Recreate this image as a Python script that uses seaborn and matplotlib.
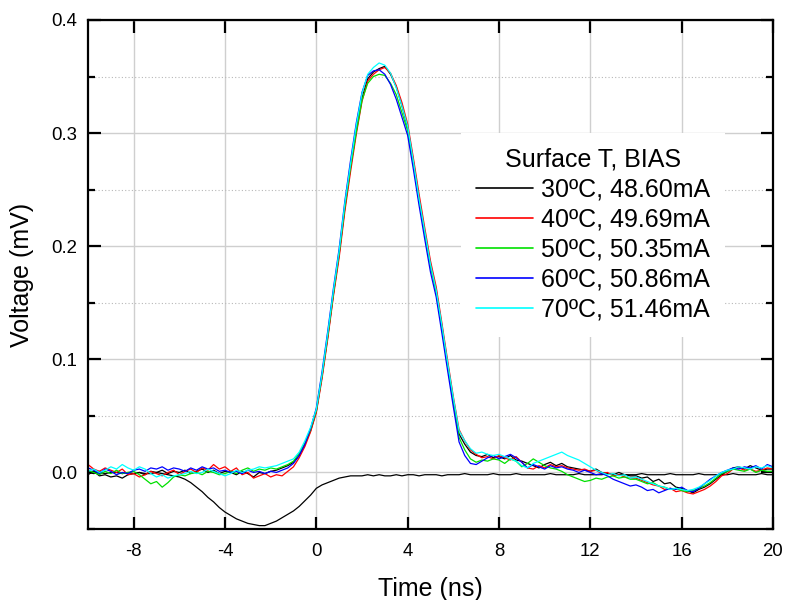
import numpy as np
import pandas as pd
import seaborn as sns
import matplotlib
matplotlib.use("Agg")
import matplotlib.pyplot as plt
from matplotlib.ticker import MultipleLocator, FormatStrFormatter

# time axis, ns (sampled every 0.25 ns from -10 to 20)
time_ns = np.arange(-10, 20.001, 0.25)

labels = ["30ºC, 48.60mA", "40ºC, 49.69mA", "50ºC, 50.35mA",
          "60ºC, 50.86mA", "70ºC, 51.46mA"]
colors = ["#000000", "#ff0000", "#00e000", "#0000ff", "#00ffff"]

# voltage traces (mV axis as labelled), 8 values = 2 ns per row
v30 = [-0.002, 0.001, -0.003, -0.002, -0.004, -0.003, -0.005, -0.002,
       -0.001, 0.000, -0.002, 0.001, 0.000, 0.002, -0.001, 0.001,
       0.000, 0.002, -0.001, 0.001, 0.003, 0.000, 0.002, -0.001,
       0.001, 0.000, -0.002, 0.001, -0.001, -0.004, 0.000, -0.001,
       0.001, 0.002, 0.004, 0.006, 0.009, 0.015, 0.025, 0.037,
       0.054, 0.085, 0.120, 0.158, 0.193, 0.234, 0.270, 0.302,
       0.331, 0.348, 0.354, 0.357, 0.359, 0.352, 0.341, 0.324,
       0.305, 0.275, 0.242, 0.212, 0.184, 0.161, 0.129, 0.096,
       0.064, 0.034, 0.025, 0.018, 0.015, 0.014, 0.016, 0.013,
       0.014, 0.012, 0.015, 0.011, 0.010, 0.008, 0.006, 0.004,
       0.007, 0.009, 0.006, 0.008, 0.005, 0.004, 0.003, 0.002,
       0.001, 0.003, 0.000, -0.001, -0.002, 0.000, -0.002, -0.003,
       -0.003, -0.005, -0.004, -0.008, -0.006, -0.010, -0.009, -0.013,
       -0.014, -0.016, -0.018, -0.015, -0.013, -0.010, -0.006, -0.002,
       0.001, 0.004, 0.005, 0.003, 0.006, 0.004, 0.002, 0.003,
       0.003]
v40 = [0.007, 0.003, 0.001, 0.004, 0.002, 0.000, 0.003, -0.002,
       -0.001, -0.004, -0.002, 0.001, -0.001, -0.003, 0.000, 0.002,
       -0.002, 0.001, 0.003, 0.000, 0.004, 0.002, 0.007, 0.003,
       0.005, 0.001, 0.004, -0.002, 0.000, -0.005, -0.003, -0.001,
       -0.004, -0.002, -0.003, 0.001, 0.005, 0.013, 0.023, 0.036,
       0.053, 0.083, 0.118, 0.156, 0.190, 0.231, 0.266, 0.299,
       0.328, 0.346, 0.352, 0.356, 0.358, 0.353, 0.342, 0.327,
       0.308, 0.278, 0.246, 0.216, 0.187, 0.164, 0.132, 0.099,
       0.067, 0.038, 0.028, 0.020, 0.016, 0.013, 0.014, 0.012,
       0.015, 0.013, 0.011, 0.014, 0.009, 0.004, 0.003, 0.006,
       0.004, 0.007, 0.005, 0.006, 0.004, 0.003, 0.002, 0.003,
       0.001, 0.002, -0.001, 0.000, -0.003, -0.002, -0.004, -0.005,
       -0.005, -0.007, -0.009, -0.011, -0.012, -0.015, -0.014, -0.017,
       -0.016, -0.018, -0.019, -0.017, -0.015, -0.012, -0.008, -0.003,
       -0.001, 0.003, 0.004, 0.002, 0.003, 0.001, 0.002, 0.004,
       0.003]
v50 = [0.002, 0.000, -0.002, 0.001, -0.001, 0.002, -0.001, 0.000,
       0.001, -0.002, -0.006, -0.010, -0.008, -0.013, -0.009, -0.004,
       -0.002, -0.003, -0.001, 0.000, -0.002, 0.001, 0.000, -0.002,
       -0.001, 0.001, -0.001, 0.002, 0.004, 0.001, 0.003, 0.002,
       0.004, 0.003, 0.005, 0.007, 0.010, 0.017, 0.026, 0.038,
       0.055, 0.086, 0.121, 0.159, 0.194, 0.235, 0.270, 0.301,
       0.329, 0.344, 0.350, 0.352, 0.351, 0.344, 0.334, 0.318,
       0.302, 0.272, 0.240, 0.211, 0.182, 0.159, 0.127, 0.094,
       0.062, 0.031, 0.020, 0.012, 0.009, 0.011, 0.010, 0.012,
       0.011, 0.008, 0.012, 0.010, 0.005, 0.008, 0.012, 0.009,
       0.006, 0.004, 0.003, 0.001, -0.002, -0.004, -0.006, -0.008,
       -0.007, -0.005, -0.006, -0.004, -0.003, -0.005, -0.004, -0.006,
       -0.006, -0.008, -0.010, -0.009, -0.012, -0.013, -0.015, -0.014,
       -0.016, -0.017, -0.016, -0.014, -0.012, -0.009, -0.005, -0.001,
       0.001, 0.003, 0.002, 0.001, 0.003, 0.000, 0.002, 0.001,
       0.001]
v60 = [0.004, 0.002, -0.001, 0.003, 0.001, -0.002, 0.000, -0.001,
       0.002, 0.003, 0.001, 0.004, 0.003, 0.005, 0.002, 0.004,
       0.003, 0.001, 0.004, 0.002, 0.005, 0.003, 0.004, 0.001,
       0.002, 0.000, 0.001, -0.001, 0.002, 0.000, 0.001, -0.001,
       0.001, 0.000, 0.002, 0.004, 0.008, 0.015, 0.025, 0.039,
       0.057, 0.089, 0.125, 0.163, 0.198, 0.240, 0.276, 0.309,
       0.336, 0.351, 0.355, 0.356, 0.352, 0.343, 0.330, 0.314,
       0.298, 0.268, 0.236, 0.206, 0.177, 0.155, 0.123, 0.090,
       0.058, 0.027, 0.015, 0.008, 0.007, 0.010, 0.013, 0.015,
       0.012, 0.014, 0.016, 0.013, 0.009, 0.004, 0.007, 0.005,
       0.003, 0.006, 0.004, 0.005, 0.003, 0.002, 0.000, 0.002,
       0.000, -0.002, -0.001, -0.003, -0.006, -0.008, -0.010, -0.012,
       -0.011, -0.013, -0.016, -0.015, -0.018, -0.016, -0.014, -0.015,
       -0.013, -0.016, -0.017, -0.014, -0.010, -0.006, -0.003, 0.000,
       0.002, 0.004, 0.003, 0.005, 0.004, 0.006, 0.003, 0.007,
       0.005]
v70 = [0.001, 0.003, 0.000, 0.002, 0.005, 0.003, 0.007, 0.004,
       0.002, 0.005, 0.003, -0.001, -0.004, -0.002, -0.005, -0.003,
       -0.002, -0.001, 0.001, -0.001, 0.000, 0.003, 0.001, -0.001,
       -0.003, -0.001, 0.002, 0.000, 0.002, 0.003, 0.005, 0.004,
       0.005, 0.006, 0.008, 0.010, 0.012, 0.018, 0.028, 0.040,
       0.056, 0.087, 0.123, 0.161, 0.196, 0.238, 0.273, 0.307,
       0.335, 0.352, 0.358, 0.362, 0.360, 0.353, 0.340, 0.324,
       0.306, 0.275, 0.242, 0.213, 0.184, 0.161, 0.130, 0.097,
       0.066, 0.037, 0.028, 0.021, 0.017, 0.018, 0.016, 0.015,
       0.016, 0.014, 0.012, 0.010, 0.006, 0.004, 0.008, 0.010,
       0.012, 0.014, 0.016, 0.018, 0.015, 0.013, 0.011, 0.008,
       0.005, 0.002, 0.000, -0.002, -0.001, -0.003, -0.002, -0.005,
       -0.004, -0.006, -0.008, -0.010, -0.012, -0.013, -0.015, -0.014,
       -0.015, -0.016, -0.015, -0.013, -0.010, -0.007, -0.003, 0.000,
       0.002, 0.003, 0.005, 0.004, 0.003, 0.005, 0.004, 0.006,
       0.004]
# extra black trace (no legend entry)
v_ref = [0.000, -0.001, 0.000, -0.001, 0.000, 0.000, -0.001, 0.000,
         -0.001, 0.000, -0.001, -0.001, 0.000, -0.001, -0.002, -0.003,
         -0.004, -0.006, -0.009, -0.013, -0.017, -0.022, -0.026, -0.031,
         -0.035, -0.038, -0.041, -0.043, -0.045, -0.046, -0.047, -0.047,
         -0.045, -0.043, -0.040, -0.037, -0.034, -0.030, -0.025, -0.020,
         -0.014, -0.011, -0.009, -0.007, -0.005, -0.004, -0.003, -0.003,
         -0.003, -0.002, -0.003, -0.002, -0.003, -0.003, -0.002, -0.003,
         -0.002, -0.002, -0.003, -0.002, -0.002, -0.002, -0.003, -0.002,
         -0.002, -0.002, -0.001, -0.002, -0.002, -0.002, -0.002, -0.001,
         -0.002, -0.002, -0.002, -0.001, -0.002, -0.002, -0.002, -0.002,
         -0.002, -0.001, -0.002, -0.002, -0.002, -0.002, -0.001, -0.002,
         -0.002, -0.002, -0.002, -0.001, -0.002, -0.002, -0.002, -0.002,
         -0.002, -0.001, -0.002, -0.002, -0.002, -0.002, -0.001, -0.002,
         -0.002, -0.002, -0.002, -0.001, -0.002, -0.002, -0.002, -0.002,
         -0.002, -0.001, -0.002, -0.002, -0.002, -0.002, -0.001, -0.002,
         -0.002]

series = [v30, v40, v50, v60, v70]
df = pd.concat([pd.DataFrame({"t": time_ns, "v": vals, "label": lab})
                for vals, lab in zip(series, labels)], ignore_index=True)

sns.set_theme(style="ticks")
plt.rcParams["font.family"] = ["Liberation Sans", "DejaVu Sans"]
plt.rcParams["axes.unicode_minus"] = False
for key in ["text.color", "axes.labelcolor", "xtick.color", "ytick.color"]:
    plt.rcParams[key] = "black"

fig = plt.figure(figsize=(7.85, 6.0), dpi=100)
ax = fig.add_axes([0.1121, 0.1183, 0.8726, 0.8484])

sns.lineplot(x=time_ns, y=v_ref, color="black", lw=0.9, ax=ax,
             estimator=None, sort=False, legend=False)
sns.lineplot(data=df, x="t", y="v", hue="label", hue_order=labels,
             palette=dict(zip(labels, colors)), lw=0.9, ax=ax,
             estimator=None, sort=False)

ax.set_xlim(-10, 20)
ax.set_ylim(-0.05, 0.4)
ax.xaxis.set_major_locator(MultipleLocator(4))
ax.yaxis.set_major_locator(MultipleLocator(0.1))
ax.yaxis.set_minor_locator(MultipleLocator(0.05))
ax.yaxis.set_major_formatter(FormatStrFormatter("%.1f"))

ax.grid(which="major", color="#cfcfcf", lw=1.0, ls="-")
ax.yaxis.grid(which="minor", color="#b8b8b8", lw=0.8, ls=(0, (1, 2)))
ax.set_axisbelow(True)

ax.tick_params(which="both", direction="in", top=True, right=True,
               width=1.6, color="black", labelsize=13.4)
ax.tick_params(which="major", length=9)
ax.tick_params(which="minor", length=5)
ax.tick_params(axis="y", pad=8)
ax.tick_params(axis="x", pad=10)
for s in ax.spines.values():
    s.set_linewidth(1.6)
    s.set_color("black")

ax.set_xlabel("Time (ns)", fontsize=18, labelpad=12)
ax.set_ylabel("Voltage (mV)", fontsize=18, labelpad=12)

handles, labs = ax.get_legend_handles_labels()
leg = ax.legend(handles, labs, title="Surface T, BIAS", loc="upper right",
                bbox_to_anchor=(0.93, 0.778), borderaxespad=0, fontsize=18,
                title_fontsize=18, frameon=True, fancybox=False,
                facecolor="white", edgecolor="none", framealpha=1,
                handlelength=2.3, handletextpad=0.3, labelspacing=0.24,
                borderpad=0.6)
for h in leg.get_lines():
    h.set_linewidth(1.2)

plt.savefig("out.png", dpi=100)
